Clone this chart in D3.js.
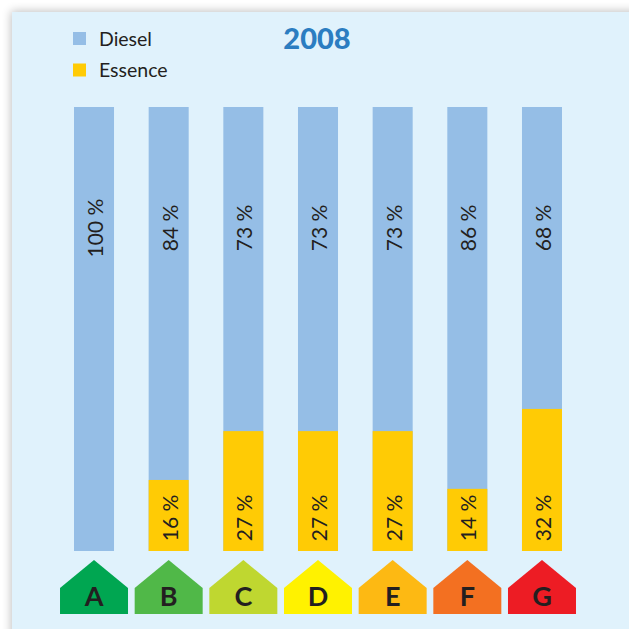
<!DOCTYPE html>
<html><head><meta charset="utf-8">
<script src="https://cdn.jsdelivr.net/npm/d3@7"></script>
<style>html,body{margin:0;padding:0;background:#fff;}svg{display:block;}</style>
</head><body>
<script>
const categories = ["A","B","C","D","E","F","G"];
const diesel = [100,84,73,73,73,86,68];
const essence = [0,16,27,27,27,14,32];
const classColors = ["#00a651","#50b848","#bfd730","#fff200","#fdb913","#f37021","#ed1c24"];
const seriesNames = ["Diesel","Essence"];
const seriesColors = ["#95bee6","#ffcb05"];
const title = "2008";

const W = 629, H = 629;
const svg = d3.select("body").append("svg").attr("width", W).attr("height", H);
const defs = svg.append("defs");
const f = defs.append("filter").attr("id","sh").attr("x","-10%").attr("y","-10%").attr("width","120%").attr("height","120%");
f.append("feGaussianBlur").attr("in","SourceAlpha").attr("stdDeviation",5).attr("result","b");
f.append("feOffset").attr("in","b").attr("dx",-1).attr("dy",-1).attr("result","o");
f.append("feComponentTransfer").attr("in","o").attr("result","o2").append("feFuncA").attr("type","linear").attr("slope",0.25);
const m = f.append("feMerge"); m.append("feMergeNode").attr("in","o2"); m.append("feMergeNode").attr("in","SourceGraphic");

svg.append("rect").attr("x",12).attr("y",12).attr("width",W).attr("height",H)
  .attr("fill","#e0f2fc").attr("filter","url(#sh)");

const x = d3.scaleBand().domain(categories).range([74,562]).paddingInner(0.464).paddingOuter(0);
const y = d3.scaleLinear().domain([0,100]).range([551,107]);
const font = "Lato, 'Open Sans', sans-serif";
const txt = "#231f20";

const g = svg.append("g");
categories.forEach((c,i) => {
  const bx = x(c), bw = x.bandwidth();
  g.append("rect").attr("x",bx).attr("y",y(100)).attr("width",bw).attr("height",y(0)-y(100)).attr("fill",seriesColors[0]);
  if (essence[i] > 0) {
    g.append("rect").attr("x",bx).attr("y",y(essence[i])).attr("width",bw).attr("height",y(0)-y(essence[i])).attr("fill",seriesColors[1]);
  }
  const cx = bx + bw/2;
  g.append("text").attr("transform",`translate(${cx+0.5},228) rotate(-90)`)
    .attr("text-anchor","middle").attr("dominant-baseline","central")
    .attr("font-family",font).attr("font-size",21).attr("fill",txt).text(diesel[i] + " %");
  if (essence[i] > 0) {
    g.append("text").attr("transform",`translate(${cx+0.5},518) rotate(-90)`)
      .attr("text-anchor","middle").attr("dominant-baseline","central")
      .attr("font-family",font).attr("font-size",21).attr("fill",txt).text(essence[i] + " %");
  }
  // energy class badge
  const bwid = 68, left = cx - bwid/2, right = cx + bwid/2;
  const pts = [[left,614],[left,588],[cx,560],[right,588],[right,614]];
  g.append("path").attr("d", d3.line()(pts) + "Z").attr("fill", classColors[i]);
  g.append("text").attr("x",cx).attr("y",606).attr("text-anchor","middle")
    .attr("font-family",font).attr("font-weight","bold").attr("font-size",27).attr("fill",txt).text(c);
});

// legend
const lg = svg.append("g");
seriesNames.forEach((n,i) => {
  const yy = 32 + i*31.5;
  lg.append("rect").attr("x",73).attr("y",yy).attr("width",13).attr("height",13).attr("fill",seriesColors[i]);
  lg.append("text").attr("x",99).attr("y",yy+13.5).attr("font-family",font).attr("font-size",19.5).attr("fill",txt).text(n);
});

svg.append("text").attr("x",317).attr("y",48.5).attr("text-anchor","middle")
  .attr("font-family",font).attr("font-weight","900").attr("font-size",29).attr("fill","#2b7dc1").text(title);
</script>
</body></html>
